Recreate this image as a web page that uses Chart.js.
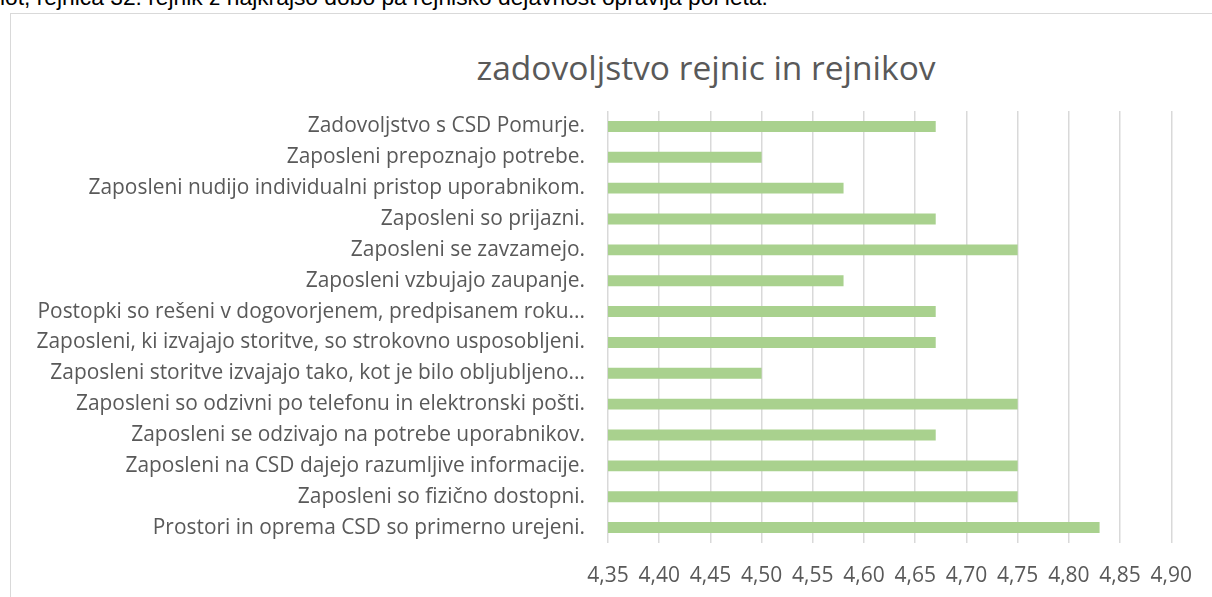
<!DOCTYPE html>
<html lang="sl">
<head>
  <meta charset="UTF-8" />
  <title>zadovoljstvo rejnic in rejnikov</title>
  <script src="https://cdn.jsdelivr.net/npm/chart.js"></script>
  <style>
    html, body { margin:0; padding:0; background:#fff; overflow:hidden; width:1212px; height:597px; }
    #prevText { position:absolute; left:0; top:-16px; font-family:"Liberation Sans", Arial, sans-serif; font-size:22.8px; color:#000; white-space:nowrap; }
    #frame { position:absolute; left:10px; top:13px; width:1400px; height:700px; border:1px solid #d9d9d9; box-sizing:border-box; }
    #title { position:absolute; left:356px; width:700px; top:44px; text-align:center; font-family:"Open Sans", sans-serif; font-size:33.5px; line-height:46px; color:#595959; }
    #wrap { position:absolute; left:0; top:0; width:1212px; height:597px; }
  </style>
</head>
<body>
  <div id="prevText">lot, rejnica 32. rejnik z najkrajšo dobo pa rejniško dejavnost opravlja pol leta.</div>
  <div id="frame"></div>
  <div id="title">zadovoljstvo rejnic in rejnikov</div>
  <div id="wrap"><canvas id="c"></canvas></div>

  <script>
    // trditve (od zgoraj navzdol) in povprečne ocene
    const labels = [
      "Zadovoljstvo s CSD Pomurje.",
      "Zaposleni prepoznajo potrebe.",
      "Zaposleni nudijo individualni pristop uporabnikom.",
      "Zaposleni so prijazni.",
      "Zaposleni se zavzamejo.",
      "Zaposleni vzbujajo zaupanje.",
      "Postopki so rešeni v dogovorjenem, predpisanem roku...",
      "Zaposleni, ki izvajajo storitve, so strokovno usposobljeni.",
      "Zaposleni storitve izvajajo tako, kot je bilo obljubljeno...",
      "Zaposleni so odzivni po telefonu in elektronski pošti.",
      "Zaposleni se odzivajo na potrebe uporabnikov.",
      "Zaposleni na CSD dajejo razumljive informacije.",
      "Zaposleni so fizično dostopni.",
      "Prostori in oprema CSD so primerno urejeni."
    ];
    const ocene = [4.67, 4.50, 4.58, 4.67, 4.75, 4.58, 4.67, 4.67, 4.50, 4.75, 4.67, 4.75, 4.75, 4.83];
    const xMin = 4.35, xMax = 4.90, xStep = 0.05;

    Chart.defaults.font.family = "'Open Sans', sans-serif";
    Chart.defaults.color = '#595959';

    new Chart(document.getElementById('c'), {
      type: 'bar',
      data: {
        labels: labels,
        datasets: [{ data: ocene, backgroundColor: '#a9d18e', categoryPercentage: 1, barPercentage: 0.355 }]
      },
      options: {
        indexAxis: 'y',
        responsive: true,
        maintainAspectRatio: false,
        animation: false,
        layout: { padding: { top: 111, right: 38, left: 0, bottom: 0 } },
        plugins: { legend: { display: false }, tooltip: { enabled: false } },
        scales: {
          x: {
            min: xMin, max: xMax,
            grid: { color: '#d9d9d9', lineWidth: 1.5, drawTicks: false },
            border: { display: false },
            ticks: {
              stepSize: xStep, padding: 20,
              font: { size: 21 },
              callback: v => v.toFixed(2).replace('.', ',')
            },
            afterFit: s => { s.height = 54; }
          },
          y: {
            grid: { display: false, drawTicks: false },
            border: { display: false },
            ticks: { padding: 23, font: { size: 20.9 } },
            afterFit: s => { s.width = 608; }
          }
        }
      }
    });
  </script>
</body>
</html>
